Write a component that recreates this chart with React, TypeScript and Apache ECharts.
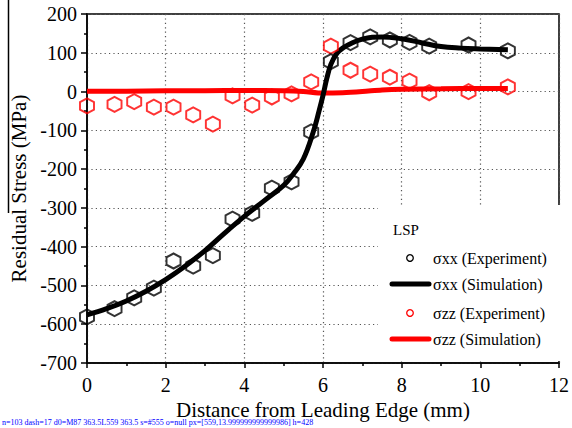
import React, { useEffect, useRef, useState } from "react";
import * as echarts from "echarts";

const expX = [0, 0.7, 1.2, 1.7, 2.2, 2.7, 3.2, 3.7, 4.2, 4.7, 5.2, 5.7, 6.2, 6.7, 7.2, 7.7, 8.2, 8.7, 9.7, 10.7];
const sxxExp = [-581, -560, -532, -507, -437, -450, -423, -329, -314, -249, -233, -104, 77, 126, 141, 133, 127, 117, 120, 105];
const szzExp = [-37, -33, -26, -40, -40, -60, -84, -11, -35, -14, -6, 25, 117, 55, 45, 37, 27, -3, 0, 12];

const sxxSimX = [0, 0.5, 1, 1.5, 2, 2.5, 3, 3.5, 4, 4.5, 5, 5.25, 5.5, 5.75, 5.9, 6.0, 6.1, 6.2, 6.35, 6.5, 6.75, 7, 7.25, 7.5, 8, 8.5, 9, 9.5, 10, 10.7];
const sxxSim = [-576, -560, -540, -515, -485, -450, -410, -365, -322, -282, -242, -212, -174, -105, -50, -10, 35, 70, 98, 112, 126, 135, 140, 141, 136, 126, 116, 112, 110, 108];

const szzSimX = [0, 1, 2, 3, 4, 5, 5.5, 6, 6.5, 7, 7.5, 8, 9, 10, 10.7];
const szzSim = [1, 1, 2, 2, 3, 2, 0, -4, -3, 0, 4, 6, 7, 8, 8];

const xTitle = "Distance from Leading Edge (mm)";
const yTitle = "Residual Stress (MPa)";
const legendTitle = "LSP";
const legendNames = ["σxx (Experiment)", "σxx (Simulation)", "σzz (Experiment)", "σzz (Simulation)"];

const SERIF = "Liberation Serif";
const HEX = "path://M0,-10 L8.66,-5 L8.66,5 L0,10 L-8.66,5 L-8.66,-5 Z";

const pairs = (xs: number[], ys: number[]) => xs.map((x, i) => [x, ys[i]]);

export default function App() {
  const ref = useRef<HTMLDivElement>(null);
  const [msg, setMsg] = useState("");
  useEffect(() => {
    document.body.style.margin = "0";
    const chart = echarts.init(ref.current!, null, { renderer: "svg" });
    const axisLineStyle = { show: true, onZero: false, lineStyle: { color: "#000", width: 1.5 } };
    const tickStyle = { color: "#000", width: 1.5 };
    const dotted = { color: "#555", width: 1.2, type: [1.2, 3.2] };
    chart.setOption({
      animation: false,
      backgroundColor: "#fff",
      grid: { left: 87, right: 9, top: 14, bottom: 65, show: true, borderColor: "#000", borderWidth: 1.5 },
      xAxis: {
        type: "value", min: 0, max: 12, interval: 2,
        name: xTitle, nameLocation: "middle", nameGap: 36,
        nameTextStyle: { fontFamily: SERIF, fontSize: 21, color: "#000" },
        axisLine: axisLineStyle,
        axisTick: { show: true, inside: false, length: 5, lineStyle: tickStyle },
        minorTick: { show: true, splitNumber: 2, length: 3, lineStyle: tickStyle },
        axisLabel: { show: true, fontFamily: SERIF, fontSize: 20, color: "#000", margin: 12 },
        splitLine: { show: true, lineStyle: dotted },
      },
      yAxis: {
        type: "value", min: -700, max: 200, interval: 100,
        name: yTitle, nameLocation: "middle", nameGap: 57, nameRotate: 90,
        nameTextStyle: { fontFamily: SERIF, fontSize: 21, color: "#000" },
        axisLine: axisLineStyle,
        axisTick: { show: true, inside: false, length: 6, lineStyle: tickStyle },
        minorTick: { show: true, splitNumber: 2, length: 3, lineStyle: tickStyle },
        axisLabel: { show: true, fontFamily: SERIF, fontSize: 20, color: "#000", margin: 10 },
        splitLine: { show: true, lineStyle: dotted },
      },
      series: [
        { name: legendNames[3], type: "line", data: pairs(szzSimX, szzSim), smooth: 0.3, symbol: "none", lineStyle: { color: "#ff0000", width: 5 }, z: 3 },
        { name: legendNames[1], type: "line", data: pairs(sxxSimX, sxxSim), smooth: 0.4, symbol: "none", lineStyle: { color: "#000", width: 5 }, z: 4 },
        { name: legendNames[2], type: "scatter", data: pairs(expX, szzExp), symbol: HEX, symbolSize: [14, 15], itemStyle: { color: "transparent", borderColor: "#ff0000", borderWidth: 2 }, z: 5 },
        { name: legendNames[0], type: "scatter", data: pairs(expX, sxxExp), symbol: HEX, symbolSize: [14, 15], itemStyle: { color: "transparent", borderColor: "#000", borderWidth: 2 }, z: 6 },
      ],
    });

    const legendY = [258, 284, 313, 339];
    chart.setOption({
      graphic: [
        { type: "line", z: 10, shape: { x1: 8.5, y1: 0, x2: 8.5, y2: 213 }, style: { stroke: "#000", lineWidth: 1.5 } },
        { type: "rect", z: 1, shape: { x: 378, y: 205, width: 184, height: 156 }, style: { fill: "#fff" } },
        { type: "text", z: 10, x: 393, y: 230, style: { text: legendTitle, fontFamily: SERIF, fontSize: 15, fill: "#000", verticalAlign: "middle" } },
        { type: "circle", z: 10, shape: { cx: 410, cy: legendY[0], r: 3.3 }, style: { fill: "none", stroke: "#000", lineWidth: 1.3 } },
        { type: "line", z: 10, shape: { x1: 392, y1: legendY[1], x2: 429, y2: legendY[1] }, style: { stroke: "#000", lineWidth: 5, lineCap: "round" } },
        { type: "circle", z: 10, shape: { cx: 410, cy: legendY[2], r: 3.3 }, style: { fill: "none", stroke: "#ff0000", lineWidth: 1.3 } },
        { type: "line", z: 10, shape: { x1: 392, y1: legendY[3], x2: 429, y2: legendY[3] }, style: { stroke: "#ff0000", lineWidth: 5, lineCap: "round" } },
        ...legendNames.map((n, i) => ({
          type: "text", z: 10, x: 433, y: legendY[i],
          style: { text: n, fontFamily: SERIF, fontSize: 16, fill: "#000", verticalAlign: "middle" },
        })),
      ],
    });
    const svg = ref.current!.querySelector("svg");
    const all = svg ? Array.from(svg.querySelectorAll("path,line,rect")) : [];
    const dashed = all.filter((e) => e.getAttribute("stroke-dasharray"));
    const p = chart.convertToPixel({ gridIndex: 0 }, [12, 200]);
    setMsg("n=" + all.length + " dash=" + dashed.length + " d0=" + (dashed[0] ? (dashed[0].getAttribute("d") || "").slice(0, 40) + " s=" + dashed[0].getAttribute("stroke") + " o=" + dashed[0].getAttribute("stroke-opacity") : "-") + " px=" + JSON.stringify(p) + " h=" + ref.current!.clientHeight);
    return () => chart.dispose();
  }, []);
  return (
    <div style={{ position: "relative", width: 572, height: 428 }}>
      <div ref={ref} style={{ width: 572, height: 428 }} />
      <div style={{ position: "absolute", left: 2, top: 418, fontSize: 8, color: "blue", whiteSpace: "nowrap" }}>{msg}</div>
    </div>
  );
}
